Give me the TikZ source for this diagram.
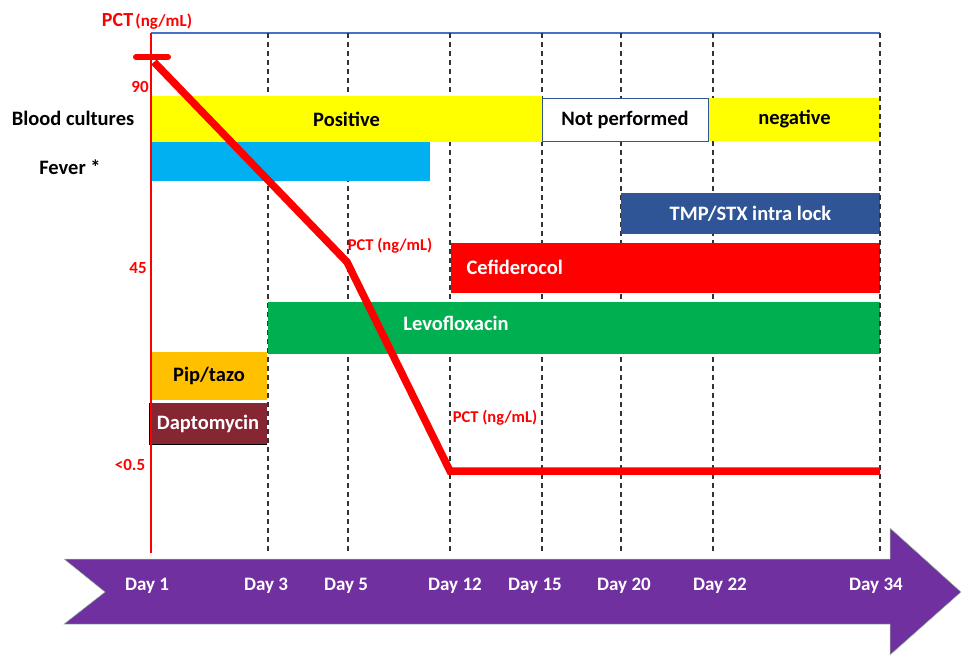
\documentclass[tikz,border=0pt]{standalone}
\usepackage{fontspec}
\setmainfont{Carlito}
\definecolor{cyel}{HTML}{FFFF00}
\definecolor{cfev}{HTML}{00B0F0}
\definecolor{ctmp}{HTML}{2F5597}
\definecolor{cred}{HTML}{FF0000}
\definecolor{cgrn}{HTML}{00B050}
\definecolor{corg}{HTML}{FFC000}
\definecolor{cdap}{HTML}{862633}
\definecolor{cpur}{HTML}{7030A0}
\definecolor{ctop}{HTML}{4472C4}
\tikzset{
  bar/.style={anchor=north west, inner sep=0pt, outer sep=0pt, draw=none},
  bartext/.style={font=\fontsize{20.5}{23}\selectfont\bfseries},
  rowlabel/.style={font=\fontsize{20.5}{23}\selectfont\bfseries, text=black},
  axlabel/.style={font=\fontsize{17}{19}\selectfont\bfseries, text=cred},
  pctlabel/.style={font=\fontsize{16.5}{18}\selectfont\bfseries, text=cred},
  daylabel/.style={font=\fontsize{19}{21}\selectfont\bfseries, text=white},
  gridline/.style={dashed, dash pattern=on 5pt off 4pt, line width=1.4pt, draw=black!80},
  pctline/.style={draw=cred, line width=7.5pt, line join=miter}
}
\begin{document}
\begin{tikzpicture}[x=1pt,y=-1pt]
\useasboundingbox (0,0) rectangle (961,656);
% top line
\coordinate (tl) at (151,33);
\coordinate (tr) at (880,33);
\draw[ctop, line width=1.1pt] (tl) -- (tr);
% grid lines (behind bars)
\foreach \x/\n in {268/g3,348/g5,450/g12,542/g15,621/g20,713/g22,880/g34}{
  \coordinate (\n t) at (\x,33);
  \coordinate (\n b) at (\x,553);
  \draw[gridline] (\n t) -- (\n b);
}
% bars
\node[bar, fill=cyel, minimum width=391pt, minimum height=46pt] (pos) at (151,96) {};
\node[bartext] at (pos.center) {Positive};
\node[bar, fill=white, draw=ctmp, line width=1pt, minimum width=166pt, minimum height=43pt] (np) at (542,98) {};
\node[bartext] at (np.center) {Not performed};
\node[bar, fill=cyel, minimum width=171pt, minimum height=43pt] (neg) at (709,98) {};
\node[bartext] at (neg.center) {negative};
\node[bar, fill=cfev, minimum width=279pt, minimum height=39pt] (fev) at (151,142) {};
\node[bar, fill=ctmp, minimum width=259pt, minimum height=41pt] (tmp) at (621,193) {};
\node[bartext, text=white] at (tmp.center) {TMP/STX intra lock};
\node[bar, fill=cred, minimum width=429pt, minimum height=50pt] (cef) at (451,243) {};
\node[bartext, text=white, anchor=west] at (463,267) {Cefiderocol};
\node[bar, fill=cgrn, minimum width=612pt, minimum height=52pt] (levo) at (268,302) {};
\node[bartext, text=white] at (456,323) {Levofloxacin};
\node[bar, fill=corg, minimum width=116pt, minimum height=48pt] (pip) at (151,352) {};
\node[bartext, text=black] at (pip.center) {Pip/tazo};
\node[bar, fill=cdap, minimum width=118pt, minimum height=41pt] (dap) at (149,403) {};
\node[bartext, text=white] at (dap.center) {Daptomycin};
\draw[black, line width=0.8pt] (dap.north west) -- (dap.south west) -- (dap.south east);
% right edge dashed line shows over bars
\draw[gridline] (g34t) -- (g34b);
% red axis
\coordinate (ax0) at (151,33);
\coordinate (ax1) at (151,553);
\draw[cred, line width=1.5pt] (ax0) -- (ax1);
\coordinate (tk0) at (136,57);
\coordinate (tk1) at (168,57);
\draw[cred, line width=6pt, line cap=round] (tk0) -- (tk1);
% PCT curve
\coordinate (p0) at (154,62);
\coordinate (p1) at (347,262);
\coordinate (p2) at (450,471);
\coordinate (p3) at (880,471);
\draw[pctline] (p0) -- (p1) -- (p2) -- (p3);
% labels
\node[font=\bfseries, text=cred] (pcttitle) at (147,21) {{\fontsize{20}{22}\selectfont PCT} {\fontsize{17}{19}\selectfont (ng/mL)}};
\node[axlabel] (l90) at (140,87) {90};
\node[axlabel] (l45) at (138,268) {45};
\node[axlabel] (l05) at (130,465) {<0.5};
\node[rowlabel] (bc) at (73,118) {Blood cultures};
\node[rowlabel] (fv) at (70,167) {Fever *};
\node[pctlabel] (pl1) at (390,246) {PCT (ng/mL)};
\node[pctlabel] (pl2) at (495,418) {PCT (ng/mL)};
% purple arrow
\fill[cpur, draw=green!30!gray!60, line width=0.5pt] (64,559) -- (890,559) -- (890,528) -- (961,592) -- (890,655) -- (890,624) -- (64,624) -- (105,592) -- cycle;
\node[daylabel] (d1) at (147,586) {Day 1};
\node[daylabel] (d3) at (266,586) {Day 3};
\node[daylabel] (d5) at (346,586) {Day 5};
\node[daylabel] (d12) at (455,586) {Day 12};
\node[daylabel] (d15) at (535,586) {Day 15};
\node[daylabel] (d20) at (624,586) {Day 20};
\node[daylabel] (d22) at (720,586) {Day 22};
\node[daylabel] (d34) at (876,586) {Day 34};
\end{tikzpicture}
\end{document}
